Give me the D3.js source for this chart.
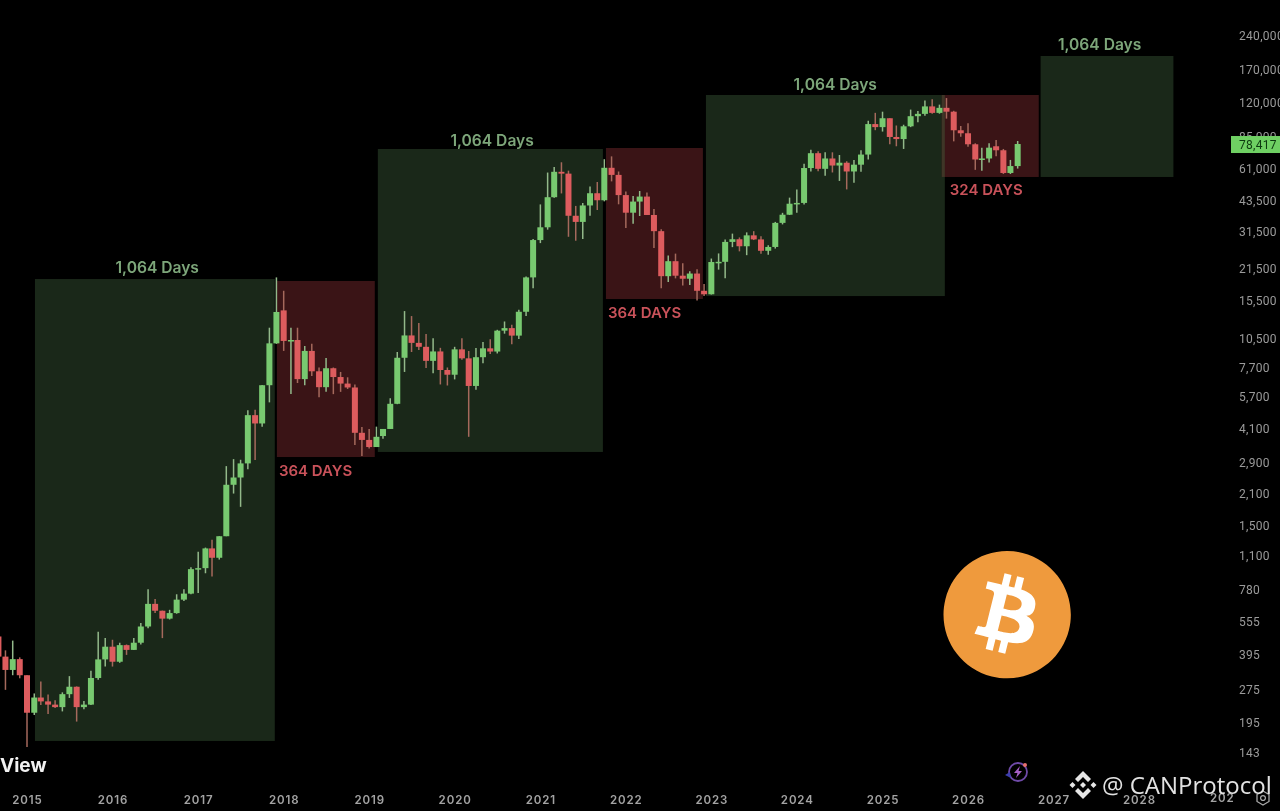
<!DOCTYPE html>
<html>
<head>
<meta charset="utf-8">
<title>BTC monthly cycles</title>
<script src="https://cdn.jsdelivr.net/npm/d3@7"></script>
<style>
  html, body { margin: 0; padding: 0; background: #000; overflow: hidden; }
  svg { display: block; filter: blur(0.35px); }
</style>
</head>
<body>
<div id="chart"></div>
<script>
// monthly candles, first one is Sep 2014
const firstMonth = "2014-09-01";

const opens = [
  478, 388, 338, 378,
  320, 217, 254, 244, 236, 230, 263, 284, 230, 236, 311, 377,
  430, 368, 437, 416, 448, 530, 670, 624, 575, 609, 700, 745,
  960, 970, 1190, 1080, 1350, 2300, 2480, 2870, 4730, 4340, 6450, 9950,
  14000, 10200, 10300, 6870, 9200, 7450, 6320, 7690, 7020, 6560, 6300, 3940,
  3660, 3400, 3810, 4100, 5320, 8570, 10800, 10000, 9600, 8300, 9150, 7550,
  7190, 9350, 8520, 6400, 8620, 9450, 9140, 11350, 11650, 10780, 13800, 19700,
  29000, 33100, 45200, 58800, 57700, 37300, 35000, 41500, 47100, 43800, 61300, 56950,
  46200, 38500, 43200, 45500, 37600, 31800, 19950, 23300, 20050, 19430, 20500, 17150,
  16540, 23100, 23150, 28450, 29250, 27200, 30450, 29200, 25950, 27000, 34650, 37700,
  42250, 42600, 61150, 71300, 60650, 67500, 62750, 64600, 59000, 63300, 70300, 96400,
  93400, 102400, 84350, 82550, 94200, 104600, 107150, 115750, 108250, 114050, 109600, 90400,
  87650, 78200, 66800, 67500, 76600, 73500, 58100, 62400
];
const highs = [
  489, 414, 458, 385,
  320, 265, 300, 262, 247, 268, 317, 285, 245, 335, 502, 470,
  462, 448, 440, 470, 550, 780, 705, 625, 630, 740, 780, 980,
  1150, 1200, 1300, 1350, 2790, 3000, 2980, 4980, 5000, 6470, 11700, 19700,
  17150, 11680, 11700, 9680, 9900, 7750, 8540, 7750, 7400, 7000, 6500, 4180,
  4100, 4200, 4100, 5640, 9100, 13900, 13200, 12300, 10950, 10500, 9500, 7750,
  9600, 10500, 9190, 9480, 10080, 10380, 11450, 12480, 12050, 14100, 19900, 29300,
  41950, 58350, 61800, 64900, 59500, 41300, 42600, 50500, 52900, 67000, 69000, 59000,
  47900, 45800, 48200, 47400, 40000, 32400, 24700, 25200, 22800, 21000, 21450, 18400,
  23950, 25250, 29200, 31000, 29800, 31400, 31800, 30200, 27500, 35000, 38450, 45000,
  48950, 64000, 73800, 72800, 72000, 71950, 70000, 65600, 66500, 73600, 99800, 108300,
  109600, 102500, 95000, 95750, 112000, 110500, 123200, 124500, 117900, 126200, 110600, 94600,
  97300, 79000, 75500, 79000, 81800, 74500, 66500, 80900
];
const lows = [
  365, 275, 320, 310,
  152, 212, 235, 214, 228, 220, 253, 198, 225, 235, 305, 350,
  350, 364, 395, 415, 440, 520, 610, 470, 570, 605, 690, 740,
  750, 920, 890, 1060, 1350, 2100, 1830, 2700, 2970, 4200, 5400, 9900,
  9200, 5890, 6600, 6450, 7090, 5700, 6020, 5880, 6020, 6200, 3470, 3100,
  3350, 3400, 3700, 4100, 5300, 7400, 9100, 9300, 7700, 7300, 6500, 6430,
  6850, 8400, 3780, 6150, 8100, 8900, 8960, 11000, 9850, 10400, 13200, 17600,
  28100, 32300, 45000, 47000, 30000, 28800, 29300, 37300, 39600, 43300, 53250, 42000,
  32900, 34300, 37200, 37600, 26700, 17600, 18800, 19500, 18100, 18200, 15500, 16250,
  16500, 21350, 19550, 26950, 25800, 24800, 29000, 25150, 24900, 26550, 34100, 37600,
  38500, 41900, 59000, 59200, 56500, 58400, 53500, 49000, 52550, 58900, 66800, 90500,
  89200, 78200, 76600, 74500, 93400, 98200, 105100, 107350, 107300, 102000, 80600, 84500,
  76200, 60000, 59500, 64800, 69000, 57500, 57500, 60800
];
const closes = [
  388, 338, 378, 320,
  217, 254, 244, 236, 230, 263, 284, 230, 236, 311, 377, 430,
  368, 437, 416, 448, 530, 670, 624, 575, 609, 700, 745, 960,
  970, 1190, 1080, 1350, 2300, 2480, 2870, 4730, 4340, 6450, 9950, 13770,
  10200, 10300, 6870, 9200, 7450, 6320, 7690, 7020, 6560, 6300, 3940, 3660,
  3400, 3780, 4100, 5320, 8570, 10800, 10000, 9600, 8300, 9150, 7550, 7190,
  9350, 8520, 6400, 8620, 9450, 9140, 11350, 11650, 10780, 13800, 19700, 29000,
  33100, 45200, 58800, 57700, 37300, 35000, 41500, 47100, 43800, 61300, 56950, 46200,
  38500, 43200, 45500, 37600, 31800, 19950, 23300, 20050, 19430, 20500, 17150, 16540,
  23100, 23150, 28450, 29250, 27200, 30450, 29200, 25950, 27000, 34650, 37700, 42250,
  42600, 61150, 71300, 60650, 67500, 62750, 64600, 59000, 63300, 70300, 96400, 93400,
  102400, 84350, 82550, 94200, 104600, 107150, 115750, 108250, 114050, 109600, 90400, 87650,
  78200, 66800, 67500, 75500, 73500, 58100, 62400, 78417
];

// cycle boxes: [start, end, top price, bottom price]
const greenBoxes = [
  ["2015-02-04", "2017-11-24", 19370, 162],
  ["2019-02-07", "2021-09-25", 74480, 3231],
  ["2022-12-09", "2025-09-24", 130270, 16240],
  ["2026-11-07", "2028-05-27", 195100, 55730]
];
const redBoxes = [
  ["2017-12-03", "2019-01-25", 18980, 3066],
  ["2021-10-08", "2022-11-26", 75240, 15750],
  ["2025-09-11", "2026-10-30", 130270, 55730]
];
const greenLabels = ["1,064 Days", "1,064 Days", "1,064 Days", "1,064 Days"];
const greenLabelDates = ["2016-07-10", "2020-06-09", "2024-06-13", "2027-07-17"];
const redLabels = ["364 DAYS", "364 DAYS", "324 DAYS"];

const priceTicks = [240000, 170000, 120000, 85000, 61000, 43500, 31500, 21500, 15500, 10500,
  7700, 5700, 4100, 2900, 2100, 1500, 1100, 780, 555, 395, 275, 195, 143];
const yearTicks = [2015, 2016, 2017, 2018, 2019, 2020, 2021, 2022, 2023, 2024, 2025, 2026, 2027, 2028];
const lastPrice = 78417;

const width = 1280;
const height = 811;
const colorUp = "#78c970";
const colorDown = "#dd5c5e";
const colorUpWick = "#93b98a";
const colorDownWick = "#a5695c";
const fontUi = "Inter, 'Liberation Sans', sans-serif";

const svg = d3.select("#chart").append("svg")
  .attr("width", width)
  .attr("height", height)
  .style("background", "#000");

const x = d3.scaleUtc()
  .domain([new Date(Date.UTC(2015, 0, 1)), new Date(Date.UTC(2029, 0, 1))])
  .range([27, 1224.7]);

const y = d3.scaleLog()
  .domain([240000, 143])
  .range([36, 753]);

const parseDay = d3.utcParse("%Y-%m-%d");
const start = parseDay(firstMonth);
const candles = opens.map((o, i) => ({
  date: d3.utcMonth.offset(start, i),
  open: o,
  high: highs[i],
  low: lows[i],
  close: closes[i]
}));

function drawBoxes(list, fill, cls) {
  svg.append("g").attr("class", cls)
    .selectAll("rect")
    .data(list)
    .join("rect")
    .attr("x", d => x(parseDay(d[0])))
    .attr("y", d => y(d[2]))
    .attr("width", d => x(parseDay(d[1])) - x(parseDay(d[0])))
    .attr("height", d => y(d[3]) - y(d[2]))
    .attr("fill", fill);
}
drawBoxes(greenBoxes, "#1a2819", "green-boxes");
drawBoxes(redBoxes, "#3a1416", "red-boxes");

// little overlap strip where the 3rd green and 3rd red box meet
svg.append("rect")
  .attr("x", x(parseDay(redBoxes[2][0])))
  .attr("y", y(redBoxes[2][2]))
  .attr("width", x(parseDay(greenBoxes[2][1])) - x(parseDay(redBoxes[2][0])))
  .attr("height", y(redBoxes[2][3]) - y(redBoxes[2][2]))
  .attr("fill", "#3f3627");

const candleG = svg.append("g").attr("class", "candles");

candleG.selectAll("line")
  .data(candles)
  .join("line")
  .attr("x1", d => x(d.date))
  .attr("x2", d => x(d.date))
  .attr("y1", d => y(d.high))
  .attr("y2", d => y(d.low))
  .attr("stroke", d => d.close >= d.open ? colorUpWick : colorDownWick)
  .attr("stroke-width", 1.5);

candleG.selectAll("rect")
  .data(candles)
  .join("rect")
  .attr("x", d => x(d.date) - 3)
  .attr("width", 6)
  .attr("y", d => y(Math.max(d.open, d.close)))
  .attr("height", d => Math.max(1.5, Math.abs(y(d.open) - y(d.close))))
  .attr("fill", d => d.close >= d.open ? colorUp : colorDown);

// box labels
const greenGaps = [6, 3, 5, 6];
svg.append("g").selectAll("text")
  .data(greenBoxes)
  .join("text")
  .attr("x", (d, i) => x(parseDay(greenLabelDates[i])))
  .attr("y", (d, i) => y(d[2]) - greenGaps[i])
  .attr("text-anchor", "middle")
  .attr("fill", "#7da67a")
  .attr("font-family", fontUi)
  .attr("font-weight", 600)
  .attr("font-size", 15.6)
  .text((d, i) => greenLabels[i]);

svg.append("g").selectAll("text")
  .data(redBoxes)
  .join("text")
  .attr("x", (d, i) => x(parseDay(d[0])) + (i === 2 ? 8 : 2))
  .attr("y", d => y(d[3]) + 18.5)
  .attr("fill", "#c9525a")
  .attr("font-family", fontUi)
  .attr("font-weight", 600)
  .attr("font-size", 15)
  .text((d, i) => redLabels[i]);

// axes
const yAxis = svg.append("g")
  .attr("transform", "translate(1236,0)")
  .call(d3.axisRight(y).tickValues(priceTicks).tickSize(0).tickFormat(d3.format(",")));
yAxis.select(".domain").remove();
yAxis.selectAll("text")
  .attr("fill", "#9b9b9b")
  .attr("font-family", "Roboto, sans-serif")
  .attr("font-size", 12)
  .attr("letter-spacing", 0.3);

const xAxis = svg.append("g")
  .attr("transform", "translate(0,793)")
  .call(d3.axisBottom(x)
    .tickValues(yearTicks.map(t => new Date(Date.UTC(t, 0, 1))))
    .tickSize(0)
    .tickFormat(d3.utcFormat("%Y")));
xAxis.select(".domain").remove();
xAxis.selectAll("text")
  .attr("fill", "#a3a3a3")
  .attr("font-family", fontUi)
  .attr("font-weight", 600)
  .attr("font-size", 11.5)
  .attr("letter-spacing", 0.9);

// the 2029 label is cut off in the screenshot
svg.append("text")
  .attr("x", 1210)
  .attr("y", 802)
  .attr("fill", "#a3a3a3")
  .attr("font-family", fontUi)
  .attr("font-weight", 600)
  .attr("font-size", 11.5)
  .attr("letter-spacing", 0.9)
  .text("202");

// last price tag
const tagG = svg.append("g").attr("transform", `translate(1231,${y(lastPrice) - 8})`);
tagG.append("rect").attr("width", 49).attr("height", 17).attr("fill", "#6fd063");
tagG.append("text")
  .attr("x", 8)
  .attr("y", 13)
  .attr("fill", "#0d3a10")
  .attr("font-family", "Roboto, sans-serif")
  .attr("font-size", 12)
  .attr("letter-spacing", 0.3)
  .text(d3.format(",")(lastPrice));

// bitcoin logo
const logo = svg.append("g").attr("transform", "translate(943.5,551) scale(1.99)");
logo.append("path")
  .attr("fill", "#ef9a3d")
  .attr("d", "M63.033,39.744c-4.274,17.143-21.637,27.576-38.782,23.301C7.116,58.77-3.317,41.406,0.959,24.263 C5.231,7.118,22.594-3.316,39.734,0.958C56.878,5.232,67.308,22.597,63.033,39.744L63.033,39.744z");
logo.append("path")
  .attr("fill", "#fff")
  .attr("d", "M46.103,27.444c0.637-4.258-2.605-6.547-7.038-8.074l1.438-5.768l-3.511-0.875l-1.4,5.616c-0.923-0.23-1.871-0.447-2.813-0.662l1.41-5.653l-3.509-0.875l-1.439,5.766c-0.764-0.174-1.514-0.346-2.242-0.527l0.004-0.018l-4.842-1.209l-0.934,3.75c0,0,2.605,0.597,2.55,0.634c1.422,0.355,1.679,1.296,1.636,2.042l-1.638,6.571c0.098,0.025,0.225,0.061,0.365,0.117c-0.117-0.029-0.242-0.061-0.371-0.092l-2.296,9.205c-0.174,0.432-0.615,1.08-1.609,0.834c0.035,0.051-2.552-0.637-2.552-0.637l-1.743,4.019l4.569,1.139c0.85,0.213,1.683,0.436,2.503,0.646l-1.453,5.834l3.507,0.875l1.439-5.772c0.958,0.26,1.888,0.5,2.798,0.726l-1.434,5.745l3.511,0.875l1.453-5.823c5.987,1.133,10.489,0.676,12.384-4.739c1.527-4.36-0.076-6.875-3.226-8.515C44.008,32.619,45.746,31.01,46.103,27.444L46.103,27.444z M38.081,38.693c-1.085,4.36-8.426,2.003-10.806,1.412l1.928-7.729C31.583,32.97,39.215,34.147,38.081,38.693z M39.167,27.381c-0.99,3.966-7.1,1.951-9.082,1.457l1.748-7.01C33.815,22.322,40.198,23.243,39.167,27.381z");

// clipped "TradingView" logo text
svg.append("text")
  .attr("x", 0)
  .attr("y", 771.5)
  .attr("fill", "#f2f2f2")
  .attr("font-family", fontUi)
  .attr("font-weight", 700)
  .attr("font-size", 19)
  .text("View");

// purple bolt badge
const bolt = svg.append("g").attr("transform", "translate(1018,772)");
bolt.append("circle").attr("r", 9).attr("fill", "none").attr("stroke", "#6f4aa8").attr("stroke-width", 1.8);
bolt.append("path").attr("d", "M2,-6 L-4,1 L-0.5,1 L-2,6 L4,-1 L0.5,-1 Z").attr("fill", "#a55fc4");
bolt.append("path").attr("d", "M-13,3 L-8,0 L-7,6 Z").attr("fill", "#3d3fae");
bolt.append("circle").attr("cx", 7).attr("cy", -7).attr("r", 2).attr("fill", "#e8706e");

// settings icon
const gear = svg.append("g").attr("transform", "translate(1263,798)");
gear.append("path")
  .attr("d", "M0,-7 L6,-3.5 L6,3.5 L0,7 L-6,3.5 L-6,-3.5 Z")
  .attr("fill", "none").attr("stroke", "#a8a8a8").attr("stroke-width", 1.3);
gear.append("circle").attr("r", 2.4).attr("fill", "none").attr("stroke", "#a8a8a8").attr("stroke-width", 1.3);

// watermark sits on top of the axis
const mark = svg.append("g").attr("transform", "translate(1083,785)").attr("fill", "#e6e6e6");
mark.append("path").attr("d", "M0,-14 L8,-6 L5,-3 L0,-8 L-5,-3 L-8,-6 Z");
mark.append("path").attr("d", "M0,14 L8,6 L5,3 L0,8 L-5,3 L-8,6 Z");
mark.append("path").attr("d", "M-10.5,-3 L-7.5,0 L-10.5,3 L-13.5,0 Z");
mark.append("path").attr("d", "M10.5,-3 L13.5,0 L10.5,3 L7.5,0 Z");
mark.append("path").attr("d", "M0,-3 L3,0 L0,3 L-3,0 Z");
svg.append("text")
  .attr("x", 1102)
  .attr("y", 794)
  .attr("fill", "#e2e2e2")
  .attr("font-family", "'Open Sans', sans-serif")
  .attr("font-size", 24)
  .text("@ CANProtocol");
</script>
</body>
</html>
